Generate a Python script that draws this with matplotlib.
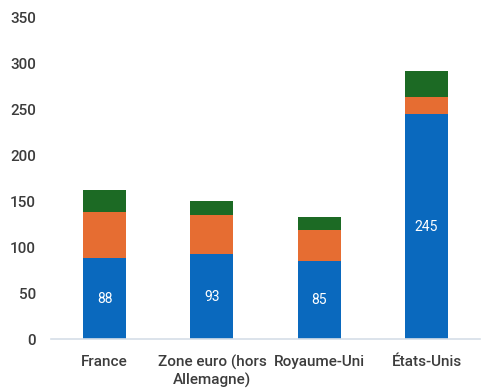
import numpy as np
import matplotlib.pyplot as plt

plt.rcParams['font.family'] = ['Roboto', 'DejaVu Sans']

categories = ['France', 'Zone euro (hors\nAllemagne)', 'Royaume-Uni', 'États-Unis']
blue_vals = [88, 93, 85, 245]
orange_vals = [50, 42, 34, 18]
green_vals = [24, 15, 14, 28]

x = np.arange(len(categories))
blue = np.array(blue_vals)
orange = np.array(orange_vals)
green = np.array(green_vals)

fig = plt.figure(figsize=(4.86, 3.9), dpi=100)
ax = fig.add_axes([0.105, 0.13, 0.883, 0.826])

w = 0.4
b1 = ax.bar(x, blue, w, color='#0A69BE')
ax.bar(x, orange, w, bottom=blue, color='#E66D32')
ax.bar(x, green, w, bottom=blue + orange, color='#1C6A24')
ax.bar_label(b1, label_type='center', color='white', fontsize=10)

ax.set_xlim(-0.5, 3.5)
ax.set_ylim(0, 350)
ax.set_yticks(np.arange(0, 351, 50))
ax.set_xticks(x)
ax.set_xticklabels(categories, fontsize=11, color='#3c3c3c', fontweight='medium',
                   linespacing=1.25)
for t in ax.get_yticklabels():
    t.set_fontweight('medium')
ax.tick_params(axis='y', labelsize=11, labelcolor='#3c3c3c', length=0, pad=11)
ax.tick_params(axis='x', length=0, pad=11)

for s in ['top', 'right', 'left']:
    ax.spines[s].set_visible(False)
ax.spines['bottom'].set_color('#D6DEE8')
ax.spines['bottom'].set_linewidth(1.2)

plt.savefig('out.png', dpi=100)
